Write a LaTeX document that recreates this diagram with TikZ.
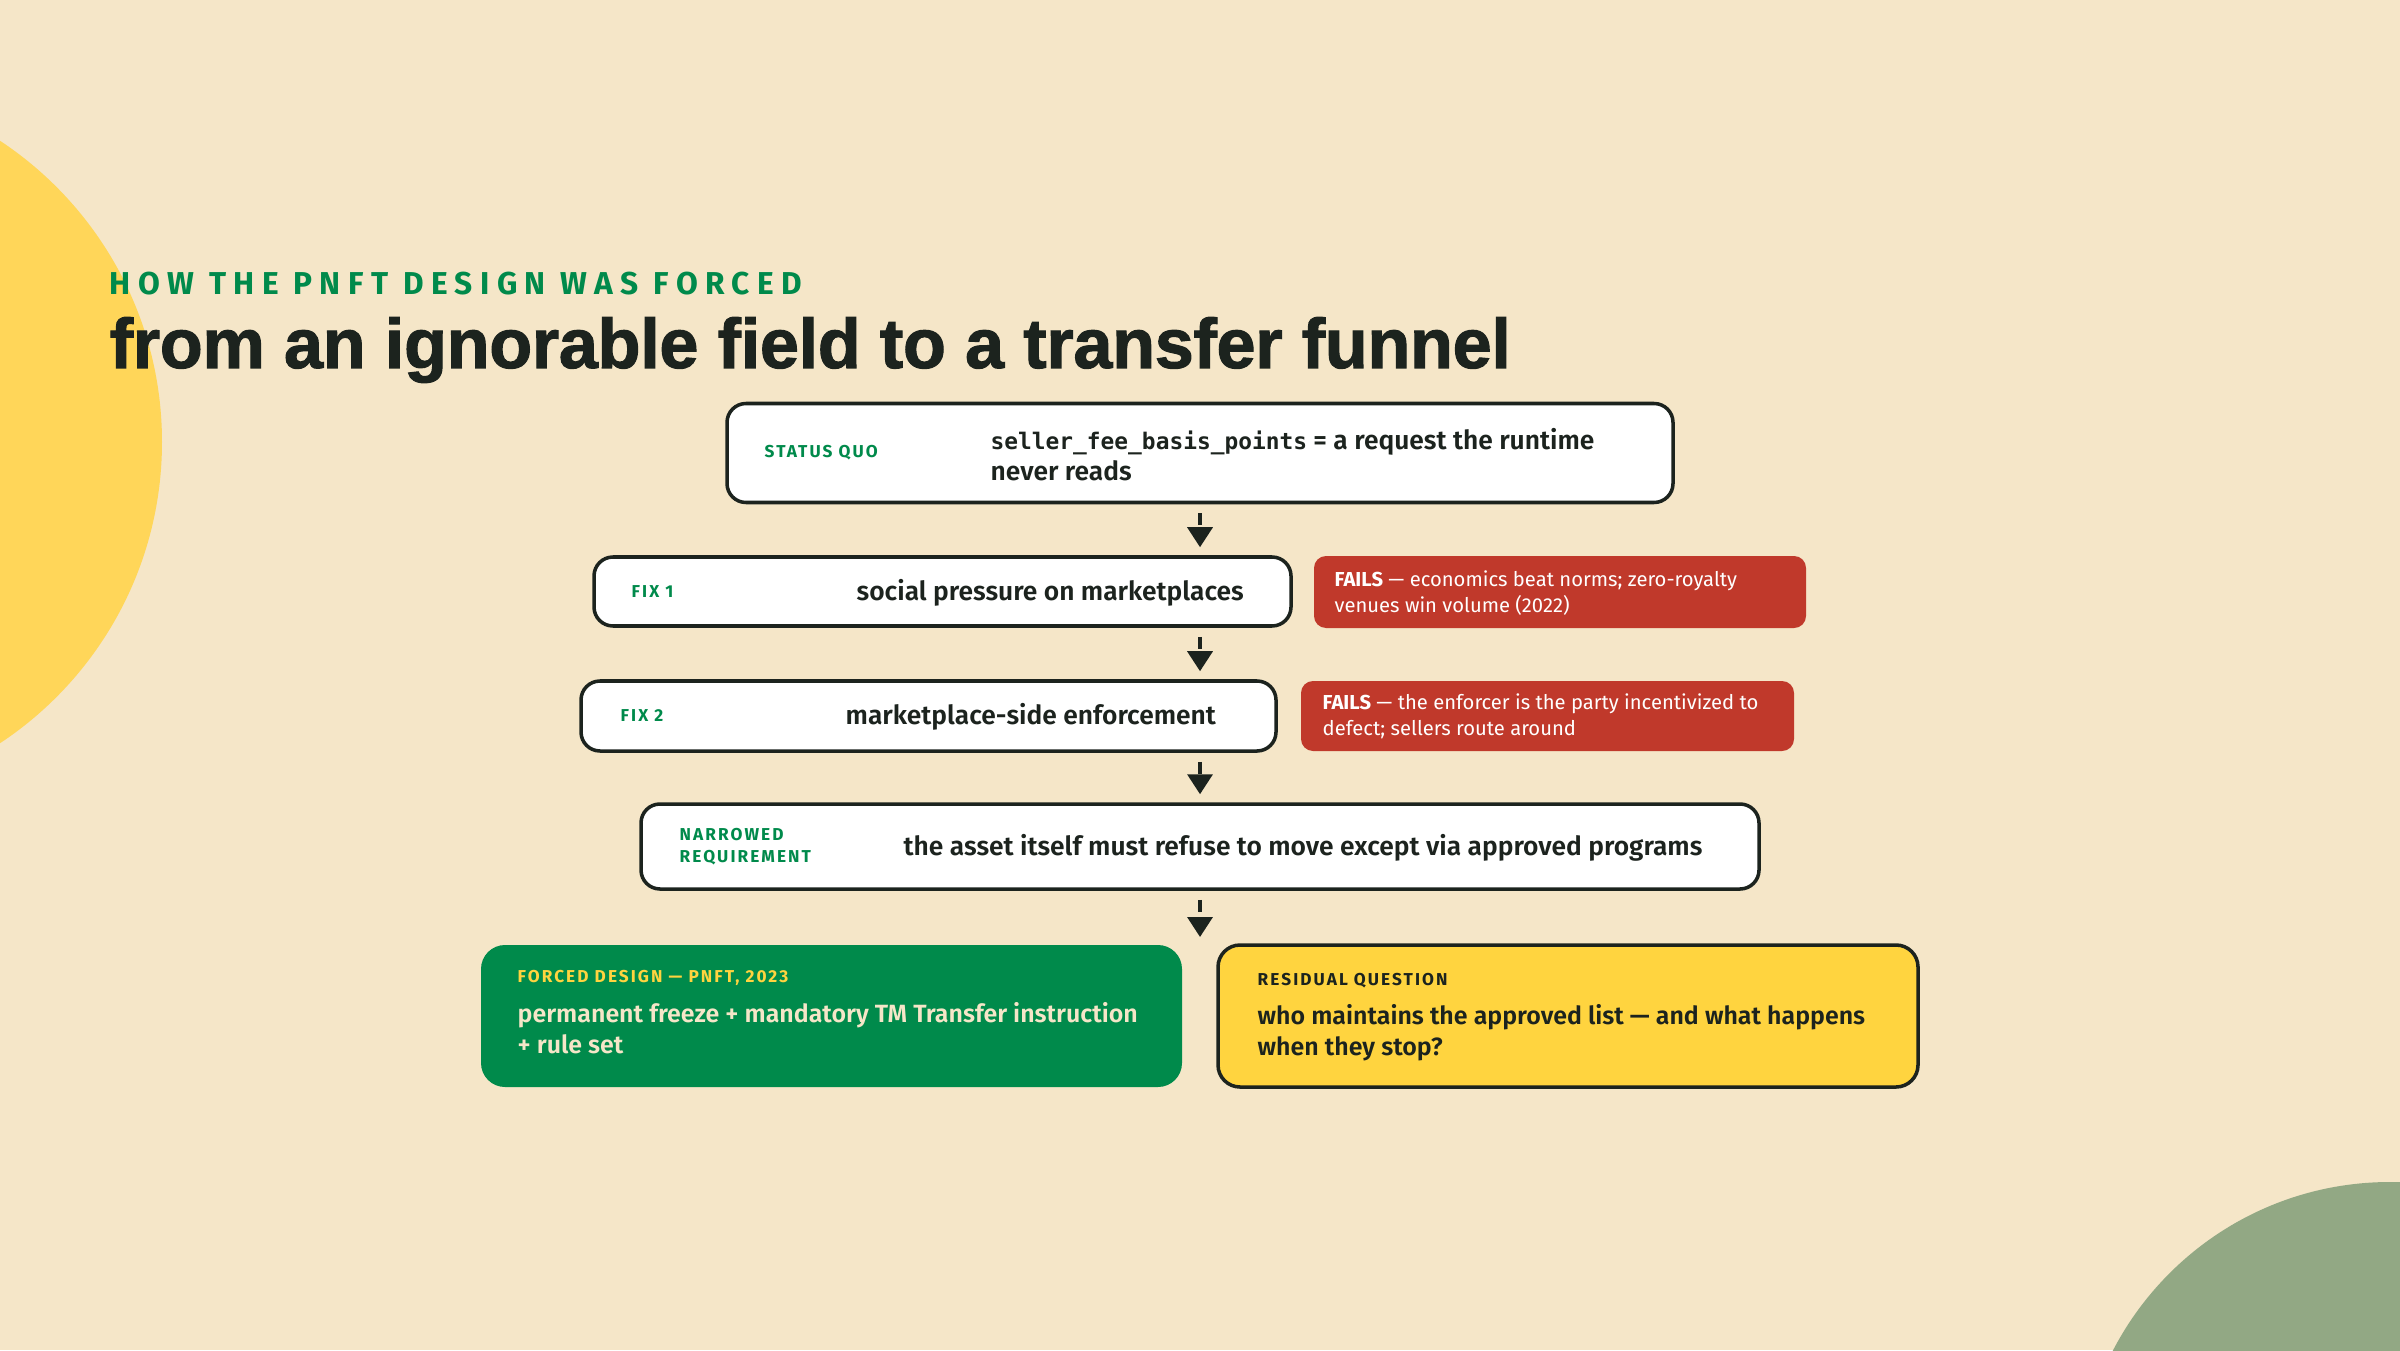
\documentclass[tikz,border=0pt]{standalone}
\usepackage{fontspec}
\usepackage{tikz}
\usetikzlibrary{arrows.meta,positioning}
\setmainfont{Fira Sans}
\IfFontExistsTF{Fira Sans SemiBold}{\newfontfamily\semifont{Fira Sans SemiBold}}{\newcommand\semifont{\bfseries}}
\newfontfamily\titlefont{Liberation Sans}[LetterSpace=-0.5, FakeBold=1.5]
\newfontfamily\capsfont{Fira Sans}[LetterSpace=12]
\newfontfamily\kickfont{Fira Sans}[LetterSpace=23.4]
\newfontfamily\codefont{DejaVu Sans Mono}
\definecolor{paper}{HTML}{F5E6C8}
\definecolor{ink}{HTML}{1C231E}
\definecolor{leaf}{HTML}{008A4B}
\definecolor{sun}{HTML}{FFD659}
\definecolor{sage}{HTML}{92A884}
\definecolor{failred}{HTML}{C0392B}
\definecolor{gold}{HTML}{FFD43F}
\tikzset{
  box/.style={draw=ink, line width=1pt, fill=white, rounded corners=0.19cm, inner sep=0},
  failbox/.style={fill=failred, rounded corners=0.12cm, inner sep=0},
  main/.style={anchor=west, inner sep=0, text=ink, align=left, font=\semifont\fontsize{7.5}{8.8}\selectfont},
  result/.style={main, font=\semifont\fontsize{7.1}{8.8}\selectfont},
  tag/.style={anchor=west, inner sep=0, text=leaf, align=left, font=\capsfont\bfseries\fontsize{4.9}{6.3}\selectfont},
  failtxt/.style={anchor=west, inner sep=0, text=white, align=left, font=\fontsize{5.75}{7.4}\selectfont},
  flow/.style={draw=ink, line width=1pt, dash pattern=on 0.12cm off 1cm, -{Triangle[width=0.25cm,length=0.2cm]}, shorten <=0.09cm, shorten >=0.08cm}
}
\begin{document}
\begin{tikzpicture}
    \path[use as bounding box, fill=paper] (0,0) rectangle (24,13.5);
    \begin{scope}
      \clip (0,0) rectangle (24,13.5);
      \fill[sun] (-1.99,9.08) circle (3.61);
      \fill[sage] (23.90,-1.44) circle (3.12);
    \end{scope}
    % heading
    \node[anchor=base west, inner sep=0, text=leaf, font=\kickfont\bfseries\fontsize{9}{10}\selectfont] (kicker) at (1.09,10.56) {HOW THE PNFT DESIGN WAS FORCED};
    \node[anchor=base west, inner sep=0, text=ink, font=\titlefont\bfseries\fontsize{20}{22}\selectfont] (title) at (1.09,9.82) {from an ignorable field to a transfer funnel};
    % boxes
    \node[box, minimum width=9.46cm, minimum height=0.99cm] (quo) at (12.00,8.97) {};
    \node[box, minimum width=6.97cm, minimum height=0.69cm] (fixa) at (9.425,7.585) {};
    \node[failbox, minimum width=4.92cm, minimum height=0.72cm] (failsa) at (15.60,7.58) {};
    \node[box, minimum width=6.95cm, minimum height=0.70cm] (fixb) at (9.285,6.34) {};
    \node[failbox, minimum width=4.93cm, minimum height=0.70cm] (failsb) at (15.475,6.34) {};
    \node[box, minimum width=11.18cm, minimum height=0.85cm] (narrow) at (12.00,5.035) {};
    \node[fill=leaf, rounded corners=0.24cm, inner sep=0, minimum width=7.01cm, minimum height=1.42cm] (forced) at (8.315,3.34) {};
    \node[box, fill=gold, rounded corners=0.22cm, minimum width=7.00cm, minimum height=1.42cm] (residual) at (15.68,3.34) {};
    % texts
    \node[tag] (quotag) at (7.64,8.97) {STATUS QUO};
    \node[main] (quotxt) at (9.90,8.955) {{\codefont\bfseries\fontsize{6.5}{8.8}\selectfont seller\_fee\_basis\_points} = a request the runtime\\never reads};
    \node[tag] (fixatag) at (6.31,7.585) {FIX 1};
    \node[main] (fixatxt) at (8.56,7.57) {social pressure on marketplaces};
    \node[failtxt] (failsatxt) at (13.34,7.57) {\textbf{FAILS} — economics beat norms; zero-royalty\\venues win volume (2022)};
    \node[tag] (fixbtag) at (6.20,6.34) {FIX 2};
    \node[main] (fixbtxt) at (8.45,6.33) {marketplace-side enforcement};
    \node[failtxt] (failsbtxt) at (13.22,6.34) {\textbf{FAILS} — the enforcer is the party incentivized to\\defect; sellers route around};
    \node[tag] (narrowtag) at (6.79,5.03) {NARROWED\\REQUIREMENT};
    \node[main] (narrowtxt) at (9.03,5.02) {the asset itself must refuse to move except via approved programs};
    \node[tag, text=gold] (forcedtag) at (5.17,3.72) {FORCED DESIGN — PNFT, 2023};
    \node[result, text=paper] (forcedtxt) at (5.17,3.215) {permanent freeze + mandatory TM Transfer instruction\\+ rule set};
    \node[tag, text=ink] (residualtag) at (12.57,3.69) {RESIDUAL QUESTION};
    \node[result] (residualtxt) at (12.57,3.175) {who maintains the approved list — and what happens\\when they stop?};
    % arrows
    \coordinate (axis) at (12.00,0);
    \coordinate (split) at (12.00,4.05);
    \draw[flow] (quo.south) -- (axis |- fixa.north);
    \draw[flow] (axis |- fixa.south) -- (axis |- fixb.north);
    \draw[flow] (axis |- fixb.south) -- (narrow.north);
    \draw[flow] (narrow.south) -- (split);
\end{tikzpicture}
\end{document}
